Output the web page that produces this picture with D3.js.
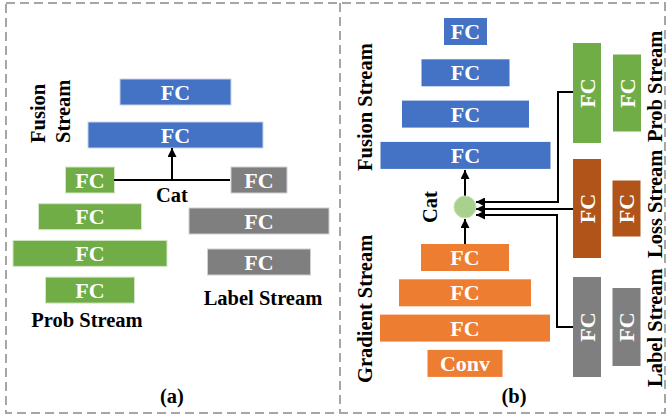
<!DOCTYPE html>
<html>
<head>
<meta charset="utf-8">
<script src="https://cdn.jsdelivr.net/npm/d3@7"></script>
<style>
  body { margin: 0; background: #fff; }
  text { font-family: "Liberation Serif", "Times New Roman", serif; font-weight: bold; }
</style>
</head>
<body>
<div id="chart"></div>
<script>
// layer labels and relative layer sizes (px along the long side)
const fusionA = ["FC", "FC"];
const fusionAWidths = [111, 175];
const probA = ["FC", "FC", "FC", "FC"];
const probAWidths = [49, 103, 154, 89];
const labelA = ["FC", "FC", "FC"];
const labelAWidths = [56, 140, 103];

const fusionB = ["FC", "FC", "FC", "FC"];
const fusionBWidths = [43, 88, 127, 170];
const gradB = ["FC", "FC", "FC", "Conv"];
const gradBWidths = [88, 132, 170, 75];
const probB = ["FC", "FC"];
const probBHeights = [100, 77];
const lossB = ["FC", "FC"];
const lossBHeights = [99, 56];
const labelB = ["FC", "FC"];
const labelBHeights = [100, 78];

const W = 667, H = 420;
const colors = { blue: "#4472c4", green: "#70ad47", gray: "#7f7f7f", orange: "#ed7d31", brown: "#b0541a" };

const svg = d3.select("#chart").append("svg")
  .attr("width", W).attr("height", H);

svg.append("defs").append("marker")
  .attr("id", "arrow")
  .attr("viewBox", "0 0 10 10")
  .attr("refX", 10).attr("refY", 5)
  .attr("markerWidth", 5).attr("markerHeight", 4.5)
  .attr("markerUnits", "strokeWidth")
  .attr("orient", "auto")
  .append("path").attr("d", "M0,0 L10,5 L0,10 z").attr("fill", "#000");

// dashed panel frames
const frame = svg.append("g")
  .attr("fill", "none").attr("stroke", "#a6a6a6")
  .attr("stroke-width", 2).attr("stroke-dasharray", "9,5");
frame.append("rect").attr("x", 6).attr("y", 3).attr("width", 659).attr("height", 410);
frame.append("line").attr("x1", 340).attr("x2", 340).attr("y1", 3).attr("y2", 413);

// horizontal stack: labels drawn top to bottom, centred on cx
function hStack(labels, widths, cx, top, step, h, color, stroke) {
  const y = d3.scaleBand().domain(d3.range(labels.length))
    .range([top, top + step * labels.length]);
  const cell = svg.append("g").selectAll("g").data(labels).join("g")
    .attr("transform", (d, i) => `translate(${cx},${y(i)})`);
  cell.append("rect")
    .attr("x", (d, i) => -widths[i] / 2).attr("y", 0)
    .attr("width", (d, i) => widths[i]).attr("height", h)
    .attr("fill", color)
    .attr("stroke", stroke || "none").attr("stroke-width", 1);
  cell.append("text")
    .attr("y", h / 2).attr("dy", "0.35em")
    .attr("text-anchor", "middle")
    .attr("fill", "#fff").attr("font-size", 22)
    .text(d => d);
}

// vertical pair: columns laid left to right, centred on cy
function vPair(labels, heights, left, step, w, cy, color) {
  const x = d3.scaleBand().domain(d3.range(labels.length))
    .range([left, left + step * labels.length]);
  const cell = svg.append("g").selectAll("g").data(labels).join("g")
    .attr("transform", (d, i) => `translate(${x(i)},${cy})`);
  cell.append("rect")
    .attr("x", 0).attr("y", (d, i) => -heights[i] / 2)
    .attr("width", w).attr("height", (d, i) => heights[i])
    .attr("fill", color);
  cell.append("text")
    .attr("transform", `translate(${w / 2},0) rotate(-90)`)
    .attr("dy", "0.35em").attr("text-anchor", "middle")
    .attr("fill", "#fff").attr("font-size", 22)
    .text(d => d);
}

function label(txt, x, y, anchor, rotate) {
  const t = svg.append("text")
    .attr("font-size", 20.5).attr("fill", "#000")
    .attr("text-anchor", anchor || "middle")
    .text(txt);
  if (rotate) {
    t.attr("transform", `translate(${x},${y}) rotate(-90)`).attr("dy", "0.35em");
  } else {
    t.attr("x", x).attr("y", y);
  }
}

function arrowPath(points, arrow) {
  svg.append("path")
    .attr("d", d3.line()(points))
    .attr("fill", "none").attr("stroke", "#000").attr("stroke-width", 2)
    .attr("marker-end", arrow ? "url(#arrow)" : null);
}

// ---- panel (a)
hStack(fusionA, fusionAWidths, 175.5, 79, 43, 26, colors.blue, "#c9d3e8");
hStack(probA, probAWidths, 90, 167, 36.7, 26, colors.green, "#d5e6c8");
hStack(labelA, labelAWidths, 259, 167, 41, 26, colors.gray, "#d0d0d0");

arrowPath([[114, 180], [230, 180]], false);
arrowPath([[172, 180], [172, 148]], true);

label("Cat", 172, 202);
label("Fusion", 38, 143, "start", true);
label("Stream", 63, 143, "start", true);
label("Prob Stream", 87, 327);
label("Label Stream", 263, 305);
label("(a)", 172, 403);

// ---- panel (b)
hStack(fusionB, fusionBWidths, 465.5, 18, 41.3, 27, colors.blue);
hStack(gradB, gradBWidths, 465, 244, 35.3, 27, colors.orange);
vPair(probB, probBHeights, 573, 40, 28, 93, colors.green);
vPair(lossB, lossBHeights, 573, 39.5, 28, 208.5, colors.brown);
vPair(labelB, labelBHeights, 573, 39.5, 28, 327, colors.gray);

arrowPath([[573, 92], [558, 92], [558, 202], [476, 202]], true);
arrowPath([[573, 209], [476, 209]], true);
arrowPath([[573, 327], [557, 327], [557, 215], [476, 215]], true);
arrowPath([[465, 244], [465, 219]], true);
arrowPath([[465, 196], [465, 170]], true);

svg.append("circle")
  .attr("cx", 465).attr("cy", 207).attr("r", 11)
  .attr("fill", "#a9d18e").attr("stroke", "#c8e0b8").attr("stroke-width", 1);

label("Cat", 430, 207, "middle", true);
label("Fusion Stream", 365, 171, "start", true);
label("Gradient Stream", 365, 383, "start", true);
label("Prob Stream", 655, 142, "start", true);
label("Loss Stream", 655, 258, "start", true);
label("Label Stream", 655, 387, "start", true);
label("(b)", 514, 403);
</script>
</body>
</html>
